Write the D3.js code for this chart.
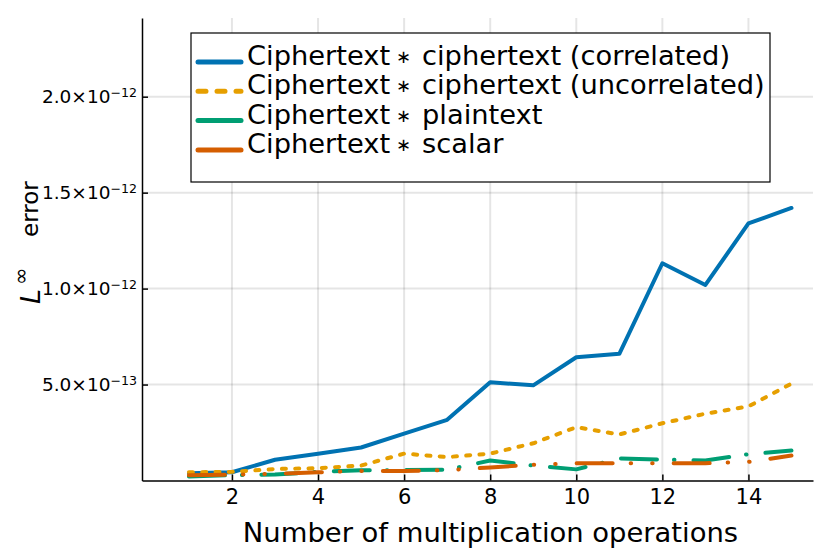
<!DOCTYPE html>
<html>
<head>
<meta charset="utf-8">
<script src="https://cdn.jsdelivr.net/npm/d3@7"></script>
<style>
  body { margin: 0; background: #fff; }
  text { font-family: "DejaVu Sans", sans-serif; fill: #000; }
</style>
</head>
<body>
<svg id="chart" width="830" height="554"></svg>
<script>
// number of multiplications on the x axis
var ops = [1, 2, 3, 4, 5, 6, 7, 8, 9, 10, 11, 12, 13, 14, 15];

// L-infinity error per series
var correlated = [0.38e-13, 0.43e-13, 1.08e-13, 1.39e-13, 1.72e-13, 2.44e-13, 3.16e-13, 5.12e-13,
  4.96e-13, 6.42e-13, 6.60e-13, 11.32e-13, 10.19e-13, 13.40e-13, 14.20e-13];
var uncorrelated = [0.43e-13, 0.45e-13, 0.60e-13, 0.64e-13, 0.78e-13, 1.40e-13, 1.22e-13, 1.40e-13,
  1.94e-13, 2.78e-13, 2.40e-13, 2.98e-13, 3.48e-13, 3.86e-13, 5.05e-13];
var plaintext = [0.21e-13, 0.28e-13, 0.31e-13, 0.45e-13, 0.54e-13, 0.54e-13, 0.56e-13, 1.04e-13,
  0.78e-13, 0.58e-13, 1.15e-13, 1.09e-13, 1.04e-13, 1.37e-13, 1.56e-13];
var scalar = [0.28e-13, 0.30e-13, 0.35e-13, 0.43e-13, 0.50e-13, 0.49e-13, 0.54e-13, 0.68e-13,
  0.82e-13, 0.90e-13, 0.90e-13, 0.90e-13, 0.90e-13, 0.97e-13, 1.30e-13];

var seriesHead = "Ciphertext";
var seriesTails = [
  "ciphertext (correlated)",
  "ciphertext (uncorrelated)",
  "plaintext",
  "scalar"
];
var xTicks = [2, 4, 6, 8, 10, 12, 14];
var yTicks = [5e-13, 1e-12, 1.5e-12, 2e-12];

var colors = ["#0072b2", "#e69f00", "#009e73", "#d55e00"];
var dashes = [null, "4,9.3", "36,17,0.5,19", "36,18,0.5,21,0.5,21"];
var legendDashes = [null, "8,11", null, null];

var series = [correlated, uncorrelated, plaintext, scalar].map(function (vals, i) {
  return {
    tail: seriesTails[i],
    color: colors[i],
    dash: dashes[i],
    values: vals.map(function (v, j) { return [ops[j], v]; })
  };
});

var plotLeft = 142, plotRight = 813, plotTop = 18, plotBottom = 480.5;

var svg = d3.select("#chart");

var x = d3.scaleLinear().domain([-0.09, 15.5]).range([plotLeft, plotRight]);
var y = d3.scaleLinear().domain([0, 2.41e-12]).range([plotBottom, plotTop]);

// grid
var grid = svg.append("g").attr("class", "grid")
  .attr("stroke", "#000").attr("stroke-opacity", 0.1).attr("stroke-width", 2);
grid.selectAll(".vx").data(xTicks).enter().append("line")
  .attr("x1", function (d) { return x(d); })
  .attr("x2", function (d) { return x(d); })
  .attr("y1", plotTop).attr("y2", plotBottom);
grid.selectAll(".hy").data(yTicks).enter().append("line")
  .attr("x1", plotLeft).attr("x2", plotRight)
  .attr("y1", function (d) { return y(d); })
  .attr("y2", function (d) { return y(d); });

// lines
var line = d3.line()
  .x(function (d) { return x(d[0]); })
  .y(function (d) { return y(d[1]); });

svg.append("g").selectAll("path")
  .data(series)
  .enter().append("path")
  .attr("d", function (d) { return line(d.values); })
  .attr("fill", "none")
  .attr("stroke", function (d) { return d.color; })
  .attr("stroke-width", 4)
  .attr("stroke-linecap", "round")
  .attr("stroke-linejoin", "round")
  .attr("stroke-dasharray", function (d) { return d.dash; });

// axes
var xAxis = svg.append("g")
  .attr("transform", "translate(0," + plotBottom + ")")
  .call(d3.axisBottom(x).tickValues(xTicks).tickSizeInner(-6).tickSizeOuter(0).tickPadding(9));
xAxis.select(".domain").attr("stroke-width", 1.5);
xAxis.selectAll("line").attr("stroke-width", 1.5);
xAxis.selectAll("text").attr("font-size", 21);

var yAxis = svg.append("g")
  .attr("transform", "translate(" + plotLeft + ",0)")
  .call(d3.axisLeft(y).tickValues(yTicks).tickSizeInner(-6).tickSizeOuter(0).tickPadding(5));
yAxis.select(".domain").attr("stroke-width", 1.5);
yAxis.selectAll("line").attr("stroke-width", 1.5);
yAxis.selectAll("text")
  .attr("font-size", 18.5)
  .text(null)
  .each(function (d) {
    var e = Math.floor(Math.log10(d) + 1e-9);
    var m = d / Math.pow(10, e);
    var t = d3.select(this);
    t.append("tspan").text(m.toFixed(1) + "\u00d710");
    t.append("tspan").attr("dy", "-0.5em").attr("font-size", 12.6).text("\u2212" + Math.abs(e));
  });

// x label
svg.append("text")
  .attr("x", (plotLeft + plotRight) / 2 + 13)
  .attr("y", 542)
  .attr("text-anchor", "middle")
  .attr("font-size", 27.4)
  .text("Number of multiplication operations");

// y label: L^inf error
var yl = svg.append("g").attr("transform", "translate(40,304) rotate(-90)");
yl.append("text")
  .attr("x", 0).attr("y", 0)
  .attr("font-family", "DejaVu Serif")
  .attr("font-style", "italic")
  .attr("font-size", 27)
  .text("L");
yl.append("text")
  .attr("x", 19).attr("y", -12)
  .attr("font-size", 21)
  .text("\u221e");
yl.append("text")
  .attr("x", 67).attr("y", -2)
  .attr("font-size", 23)
  .text("error");

// legend
var lg = svg.append("g");
lg.append("rect")
  .attr("x", 191).attr("y", 33).attr("width", 579).attr("height", 149)
  .attr("fill", "#fff").attr("stroke", "#000").attr("stroke-width", 1.2);
var rows = lg.selectAll(".row").data(series).enter().append("g")
  .attr("transform", function (d, i) { return "translate(0," + (65 + i * 29.3) + ")"; });
rows.append("line")
  .attr("x1", 198).attr("x2", 241).attr("y1", -3).attr("y2", -3)
  .attr("stroke", function (d) { return d.color; })
  .attr("stroke-width", 5)
  .attr("stroke-linecap", "round")
  .attr("stroke-dasharray", function (d, i) { return legendDashes[i]; });
var lt = rows.append("text")
  .attr("y", 0)
  .attr("font-size", 27.3);
lt.append("tspan").attr("x", 247).text(seriesHead);
lt.append("tspan").attr("x", 396).attr("dy", -2).attr("font-size", 18).text("\u2217");
lt.append("tspan").attr("x", 422).attr("dy", 2).text(function (d) { return d.tail; });
</script>
</body>
</html>
